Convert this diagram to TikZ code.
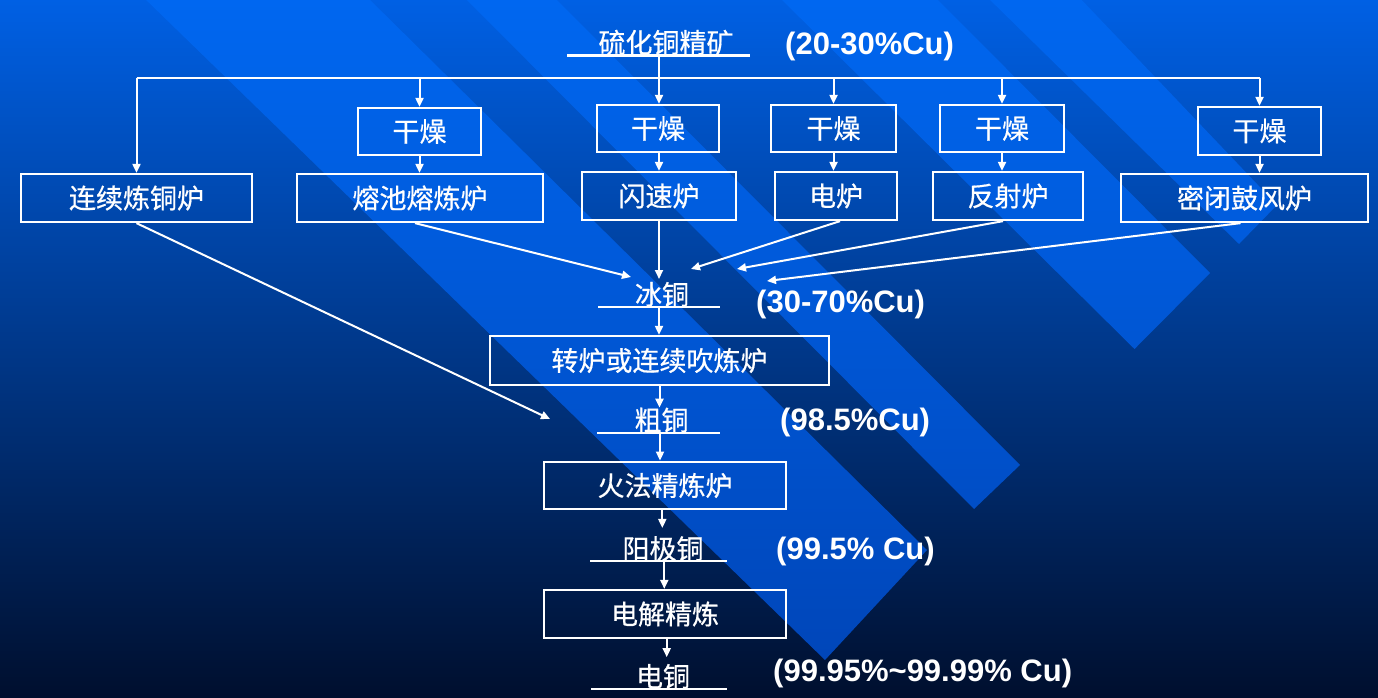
\documentclass[tikz,border=0pt]{standalone}
\usepackage{fontspec}
\newfontfamily\cjk{Noto Sans CJK SC}[FakeBold=0.6]
\newfontfamily\labfont{Liberation Sans}
\usetikzlibrary{arrows.meta}
\definecolor{bgtop}{HTML}{0060E4}
\definecolor{bgmid}{HTML}{0042AA}
\definecolor{bgbot}{HTML}{000F2E}
\definecolor{bandtop}{HTML}{0067F0}
\definecolor{bandbot}{HTML}{0044B6}
\begin{document}
\begin{tikzpicture}[x=1pt,y=-1pt,
  ln/.style={draw=white,line width=2.3pt},
  arr/.style={draw=white,line width=2pt,-{Triangle[length=9pt,width=8pt]}},
  box/.style={draw=white,line width=2.3pt,inner sep=0pt,text=white,font=\cjk\fontsize{27}{30}\selectfont},
  cn/.style={inner sep=0pt,text=white,font=\cjk\fontsize{27}{30}\selectfont},
  lab/.style={anchor=west,inner sep=0pt,text=white,font=\labfont\bfseries\fontsize{31}{34}\selectfont},
  band/.style={top color=bandtop,bottom color=bandbot}
]
\useasboundingbox (0,0) rectangle (1378,698);
% background
\begin{scope}
\clip (0,0) rectangle (1378,698);
\shade[top color=bgtop, middle color=bgmid, bottom color=bgbot] (0,0) rectangle (1378,698);
\begin{scope}
\clip (140,-6) -- (825,660) -- (927,550) -- (364,-6) -- cycle;
\shade[band] (0,0) rectangle (1378,698);
\end{scope}
\begin{scope}
\clip (461,-6) -- (974,509) -- (1020,465) -- (551,-6) -- cycle;
\shade[band] (0,0) rectangle (1378,698);
\end{scope}
\begin{scope}
\clip (776,-6) -- (1134.5,349) -- (1210,273) -- (932,-6) -- cycle;
\shade[band] (0,0) rectangle (1378,698);
\end{scope}
\begin{scope}
\clip (984,-6) -- (1239,244) -- (1277,205) -- (1076,-6) -- cycle;
\shade[band] (0,0) rectangle (1378,698);
\end{scope}
\end{scope}

% title
\node[cn,anchor=south] (title) at (666,55) {硫化铜精矿};
\draw[ln] (567,55.5) -- (750,55.5);
\node[lab] (l1) at (785,46.5) {(20-30\%Cu)};

% drying boxes
\node[box,minimum width=123pt,minimum height=47pt] (d1) at (419.5,131.5) {干燥};
\node[box,minimum width=122pt,minimum height=47pt] (d2) at (658,128.5) {干燥};
\node[box,minimum width=125pt,minimum height=47pt] (d3) at (833.5,128.5) {干燥};
\node[box,minimum width=124pt,minimum height=47pt] (d4) at (1002,128.5) {干燥};
\node[box,minimum width=123pt,minimum height=48pt] (d5) at (1259.5,131) {干燥};

% furnaces
\node[box,minimum width=231pt,minimum height=48pt] (lx) at (136.5,198) {连续炼铜炉};
\node[box,minimum width=246pt,minimum height=48pt] (rc) at (420,198) {熔池熔炼炉};
\node[box,minimum width=154pt,minimum height=48pt] (ss) at (659,196) {闪速炉};
\node[box,minimum width=122pt,minimum height=48pt] (dl) at (836,196) {电炉};
\node[box,minimum width=150pt,minimum height=48pt] (fs) at (1008,196) {反射炉};
\node[box,minimum width=247pt,minimum height=48pt] (mb) at (1244.5,198) {密闭鼓风炉};

% bus
\coordinate (tu) at (659,55.5);
\coordinate (bus) at (659,78);
\draw[ln] (tu) -- (bus);
\draw[ln] (lx.north |- bus) -- (d5.north |- bus);
\draw[arr] (lx.north |- bus) -- (lx.north);
\draw[arr] (d1.north |- bus) -- (d1.north);
\draw[arr] (bus) -- (bus |- d2.north);
\draw[arr] (d3.north |- bus) -- (d3.north);
\draw[arr] (d4.north |- bus) -- (d4.north);
\draw[arr] (d5.north |- bus) -- (d5.north);

\draw[arr] (d1.south) -- (d1.south |- rc.north);
\draw[arr] (d2.south -| ss.north) -- (ss.north);
\draw[arr] (d3.south) -- (d3.south |- dl.north);
\draw[arr] (d4.south) -- (d4.south |- fs.north);
\draw[arr] (d5.south) -- (d5.south |- mb.north);

% matte
\node[cn,anchor=south] (bt) at (662,307) {冰铜};
\draw[ln] (598,307) -- (720,307);
\node[lab] (l2) at (756,304.7) {(30-70\%Cu)};

\coordinate (m1) at (631,277);
\coordinate (m2) at (659,279);
\coordinate (m3) at (691,269);
\coordinate (m4) at (737,269);
\coordinate (m5) at (767,281);
\coordinate (m6) at (550,419);
\draw[arr] ([xshift=-5pt]rc.south) -- (m1);
\draw[arr] (ss.south) -- (ss.south |- m2);
\draw[arr] ([xshift=4pt]dl.south) -- (m3);
\draw[arr] ([xshift=-5pt]fs.south) -- (m4);
\draw[arr] ([xshift=-4pt]mb.south) -- (m5);
\draw[arr] (lx.south) -- (m6);

% converter
\node[box,minimum width=339pt,minimum height=49pt] (zc) at (659.5,360.5) {转炉或连续吹炼炉};
\coordinate (u1) at (659,307);
\draw[arr] (u1) -- (u1 |- zc.north);
\draw[arr] (zc.south) -- ++(0,21.5);

% blister
\node[cn,anchor=south] (ct) at (661.5,432.7) {粗铜};
\draw[ln] (597,432.7) -- (720,432.7);
\node[lab] (l3) at (780,422) {(98.5\%Cu)};

\node[box,minimum width=242pt,minimum height=47.6pt] (hf) at (665,485.5) {火法精炼炉};
\coordinate (u2) at (660,432.7);
\draw[arr] (u2) -- (u2 |- hf.north);
\draw[arr] ([xshift=-2.7pt]hf.south) -- ++(0,17.5);

% anode
\node[cn,anchor=south] (yj) at (663,561.3) {阳极铜};
\draw[ln] (590,561.3) -- (727,561.3);
\node[lab] (l4) at (776,551) {(99.5\% Cu)};

\node[box,minimum width=242pt,minimum height=48pt] (dj) at (665,614) {电解精炼};
\coordinate (u3) at (664.3,561.3);
\draw[arr] (u3) -- (u3 |- dj.north);
\draw[arr] ([xshift=1.7pt]dj.south) -- ++(0,18);

% cathode
\node[cn,anchor=south] (dt) at (663,689) {电铜};
\draw[ln] (591,689) -- (727,689);
\node[lab] (l5) at (773,673) {(99.95\%\char"7E 99.99\% Cu)};
\end{tikzpicture}
\end{document}
